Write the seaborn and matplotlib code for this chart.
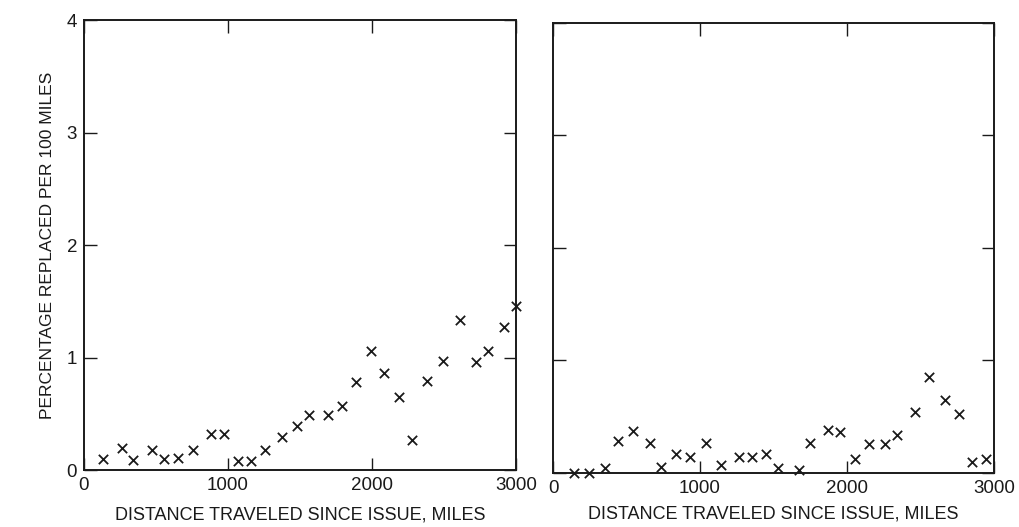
import numpy as np
import pandas as pd
import matplotlib
matplotlib.use("Agg")
import matplotlib.pyplot as plt
import seaborn as sns

# ---- data ----
left_miles = [134, 262, 338, 470, 558, 655, 755, 884, 972, 1067,
              1162, 1259, 1373, 1477, 1565, 1692, 1789, 1889, 1993, 2083,
              2185, 2278, 2384, 2490, 2611, 2722, 2806, 2917, 3000]
left_pct = [0.095, 0.20, 0.086, 0.18, 0.098, 0.107, 0.18, 0.32, 0.32, 0.08,
            0.083, 0.18, 0.29, 0.39, 0.49, 0.486, 0.57, 0.785, 1.06, 0.86,
            0.65, 0.27, 0.79, 0.97, 1.33, 0.96, 1.06, 1.27, 1.46]

right_miles = [143, 245, 352, 441, 543, 663, 735, 839, 932, 1043,
               1141, 1263, 1354, 1451, 1529, 1673, 1750, 1871, 1955, 2054,
               2152, 2259, 2343, 2459, 2561, 2667, 2762, 2850, 2946]
right_pct = [0.0, 0.0, 0.04, 0.28, 0.37, 0.27, 0.05, 0.17, 0.14, 0.27,
             0.07, 0.14, 0.14, 0.17, 0.04, 0.03, 0.27, 0.38, 0.36, 0.12,
             0.26, 0.26, 0.34, 0.54, 0.85, 0.65, 0.52, 0.10, 0.12]

x_ticks = [0, 1000, 2000, 3000]
y_ticks = [0, 1, 2, 3, 4]
x_label = "DISTANCE TRAVELED SINCE ISSUE, MILES"
y_label = "PERCENTAGE REPLACED PER 100 MILES"

sns.set_style("ticks")
plt.rcParams['font.family'] = ['Liberation Sans', 'DejaVu Sans']
ink = "#1a1a1a"

fig = plt.figure(figsize=(10.19, 5.27), dpi=100)
ax_l = fig.add_axes([0.0824, 0.108, 0.424, 0.854])
ax_r = fig.add_axes([0.5427, 0.1025, 0.4328, 0.854])

df_l = pd.DataFrame({"miles": left_miles, "pct": left_pct})
df_r = pd.DataFrame({"miles": right_miles, "pct": right_pct})

for ax, df in [(ax_l, df_l), (ax_r, df_r)]:
    sns.scatterplot(data=df, x="miles", y="pct", ax=ax, marker="x",
                    color=ink, s=45, linewidth=1.3, clip_on=False, legend=False)
    ax.set_xlim(0, 3000)
    ax.set_ylim(0, 4)
    ax.set_xticks(x_ticks)
    ax.set_yticks(y_ticks)
    ax.tick_params(direction="in", top=True, right=True, length=9, width=1.0,
                   colors=ink, labelsize=13.5, pad=5)
    for sp in ax.spines.values():
        sp.set_visible(True)
        sp.set_linewidth(1.4)
        sp.set_color(ink)
    ax.set_ylabel("")

ax_l.set_xlabel(x_label, fontsize=13, color=ink, labelpad=9)
ax_r.set_xlabel(x_label, fontsize=13, color=ink, labelpad=6)
ax_l.set_ylabel(y_label, fontsize=12.5, color=ink, labelpad=8)
ax_r.tick_params(labelleft=False)

fig.savefig("out.png", dpi=100)
